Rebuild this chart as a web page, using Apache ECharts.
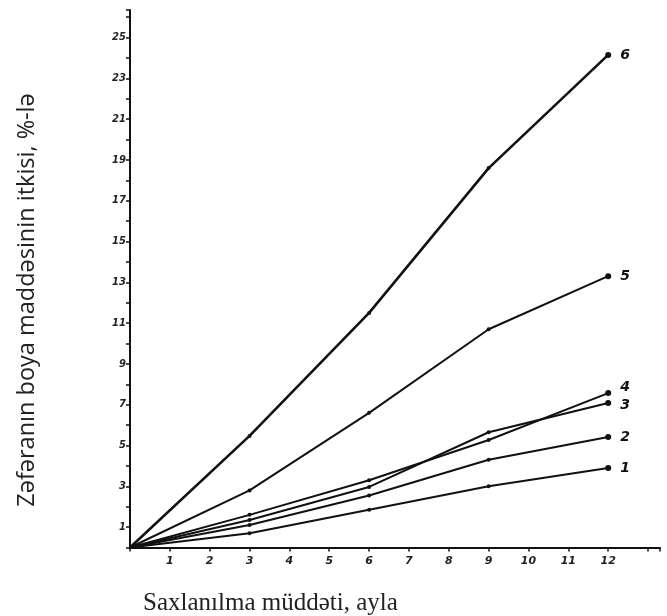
<!DOCTYPE html>
<html>
<head>
<meta charset="utf-8">
<script src="https://cdn.jsdelivr.net/npm/echarts@6/dist/echarts.min.js"></script>
<style>html,body{margin:0;padding:0;background:#fff}#c{width:667px;height:616px}</style>
</head>
<body>
<div id="c"></div>
<script>
var months = [0, 3, 6, 9, 12];
var s1 = [0, 0.7, 1.85, 3.0, 3.9];
var s2 = [0, 1.1, 2.55, 4.3, 5.42];
var s3 = [0, 1.35, 2.97, 5.65, 7.08];
var s4 = [0, 1.6, 3.3, 5.27, 7.57];
var s5 = [0, 2.8, 6.6, 10.7, 13.3];
var s6 = [0, 5.47, 11.5, 18.6, 24.15];
var seriesNames = ['1', '2', '3', '4', '5', '6'];
var xTickLabels = [1,2,3,4,5,6,7,8,9,10,11,12];
var yTickLabels = [1,3,5,7,9,11,13,15,17,19,21,23,25];
var yTitle = 'Zəfəranın boya maddəsinin itkisi, %-lə';
var xTitle = 'Saxlanılma müddəti, ayla';

var allSeries = [s1, s2, s3, s4, s5, s6];
var labelOffsets = [[4,0],[4,0],[4,2],[4,-6],[4,0],[4,0]];
var chart = echarts.init(document.getElementById('c'));
var series = allSeries.map(function (vals, i) {
  return {
    type: 'line',
    name: seriesNames[i],
    data: months.map(function (m, j) {
      var p = { value: [m, vals[j]] };
      if (j === 0) p.symbolSize = 0;
      if (j === months.length - 1) {
        p.symbolSize = 6;
        p.label = {
          show: true, position: 'right', formatter: seriesNames[i],
          offset: labelOffsets[i],
          fontFamily: 'DejaVu Sans', fontStyle: 'italic', fontWeight: 'bold',
          fontSize: 14, color: '#111'
        };
      }
      return p;
    }),
    symbol: 'circle',
    symbolSize: 4,
    showSymbol: true,
    lineStyle: { color: '#111', width: i === 5 ? 2.6 : 2 },
    itemStyle: { color: '#111' },
    animation: false,
    z: 5
  };
});
var tickFont = { fontFamily: 'DejaVu Sans', fontStyle: 'italic', fontWeight: 'bold', fontSize: 10, color: '#222' };
chart.setOption({
  backgroundColor: '#fff',
  animation: false,
  grid: { left: 130, right: 7, top: 10, bottom: 68.5 },
  xAxis: {
    type: 'value', min: 0, max: 13.3, interval: 1,
    axisLine: { show: true, onZero: false, lineStyle: { color: '#111', width: 2 } },
    axisTick: { show: true, length: 4, lineStyle: { color: '#111', width: 1.5 } },
    splitLine: { show: false },
    axisLabel: Object.assign({
      margin: 8,
      formatter: function (v) { return xTickLabels.indexOf(v) >= 0 ? String(v) : ''; }
    }, tickFont, { fontSize: 11 })
  },
  yAxis: {
    type: 'value', min: 0, max: 26.35, interval: 1,
    axisLine: { show: true, onZero: false, lineStyle: { color: '#111', width: 2 } },
    axisTick: { show: true, length: 4, lineStyle: { color: '#111', width: 1.5 } },
    splitLine: { show: false },
    axisLabel: Object.assign({
      margin: 4,
      formatter: function (v) { return yTickLabels.indexOf(v) >= 0 ? String(v) : ''; }
    }, tickFont)
  },
  graphic: [
    {
      type: 'text', x: 27, y: 300, rotation: Math.PI / 2,
      style: { text: yTitle, fontFamily: 'Open Sans', fontSize: 23.5, fill: '#222',
               align: 'center', verticalAlign: 'middle' }
    },
    {
      type: 'text', x: 143, y: 591,
      style: { text: xTitle, fontFamily: 'Liberation Serif', fontSize: 25, fill: '#222',
               align: 'left', verticalAlign: 'top' }
    }
  ],
  series: series
});
</script>
</body>
</html>
